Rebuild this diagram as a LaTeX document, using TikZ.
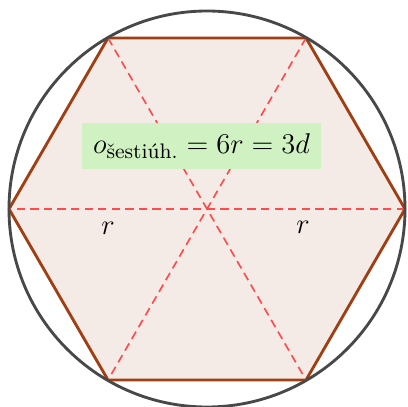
\documentclass[tikz,border=0pt]{standalone}
\usepackage{amsmath}
\definecolor{hexfill}{RGB}{245,235,230}
\definecolor{hexline}{RGB}{160,62,20}
\definecolor{circ}{RGB}{72,72,72}
\definecolor{diag}{RGB}{255,75,75}
\definecolor{lab}{RGB}{208,241,193}
\begin{document}
\begin{tikzpicture}[x=0.42pt,y=-0.42pt,
  hexstyle/.style={draw=hexline,fill=hexfill,line width=1.2pt,line join=round},
  circstyle/.style={draw=circ,line width=1.2pt},
  diagstyle/.style={draw=diag,line width=0.7pt,dash pattern=on 3.5pt off 2.2pt},
  labstyle/.style={fill=lab,inner xsep=4.5pt,inner ysep=4.5pt,font=\fontsize{12.6}{15}\selectfont},
  rstyle/.style={font=\fontsize{12.6}{15}\selectfont}]
\useasboundingbox (0,0) rectangle (407,407);
\coordinate (O) at (207,209);
\coordinate (A) at (405,209);
\coordinate (B) at (306,38);
\coordinate (C) at (108,38);
\coordinate (D) at (9,209);
\coordinate (E) at (108,380);
\coordinate (F) at (306,380);
\path[hexstyle] (A) -- (B) -- (C) -- (D) -- (E) -- (F) -- cycle;
\draw[diagstyle] (A) -- (D);
\draw[diagstyle] (B) -- (E);
\draw[diagstyle] (C) -- (F);
\draw[circstyle] (O) circle[radius=198*0.42pt];
\node[labstyle] (L) at (201.5,146) {$o_{\text{šestiúh.}} = 6r = 3d$};
\node[rstyle] (r1) at (108,228) {$r$};
\node[rstyle] (r2) at (303,227) {$r$};
\end{tikzpicture}
\end{document}
